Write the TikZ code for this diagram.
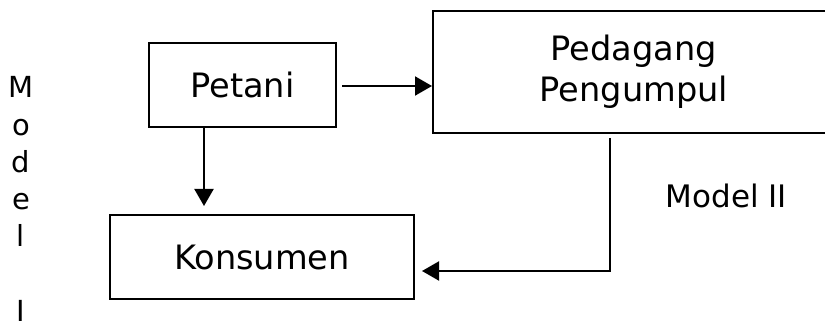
\documentclass[tikz,border=0pt]{standalone}
\usepackage{fontspec}
\setmainfont{DejaVu Sans}
\usetikzlibrary{arrows.meta,calc}
\begin{document}
\begin{tikzpicture}[x=0.5pt,y=-0.5pt,
  box/.style={draw,line width=1pt,rectangle,inner sep=0pt,align=center,font=\fontsize{16.8}{20.5}\selectfont},
  arr/.style={line width=1pt,-{Triangle[length=8.5pt,width=9.5pt]}},
  lbl/.style={inner sep=0pt,font=\fontsize{15.5}{18}\selectfont}]
\useasboundingbox (0,0) rectangle (825,326);
\node[box,minimum width=93.5pt,minimum height=42pt] (petani) at (242.5,85) {Petani};
\node[box,minimum width=201pt,minimum height=61pt] (ped) at (634,72) {Pedagang\\Pengumpul};
\node[box,minimum width=152pt,minimum height=42pt] (kons) at (262,257) {Konsumen};
\node[lbl,anchor=base] (m2) at (726.5,207) {Model II};
\node[inner sep=0pt,align=center,anchor=base,font=\fontsize{14.5}{18.6}\selectfont] (m1) at (21,321) {M\\o\\d\\e\\l\\[18.6pt]I};
\coordinate (a) at (204,0);
\coordinate (b) at (610,271);
\draw[arr,shorten <=2.5pt] (petani.east |- 0,86) -- (ped.west |- 0,86);
\draw[arr,shorten >=4pt] (petani.south -| a) -- (kons.north -| a);
\draw[arr,shorten <=2pt,shorten >=3.5pt] (ped.south -| b) -- (b) -- (b -| kons.east);
\end{tikzpicture}
\end{document}
